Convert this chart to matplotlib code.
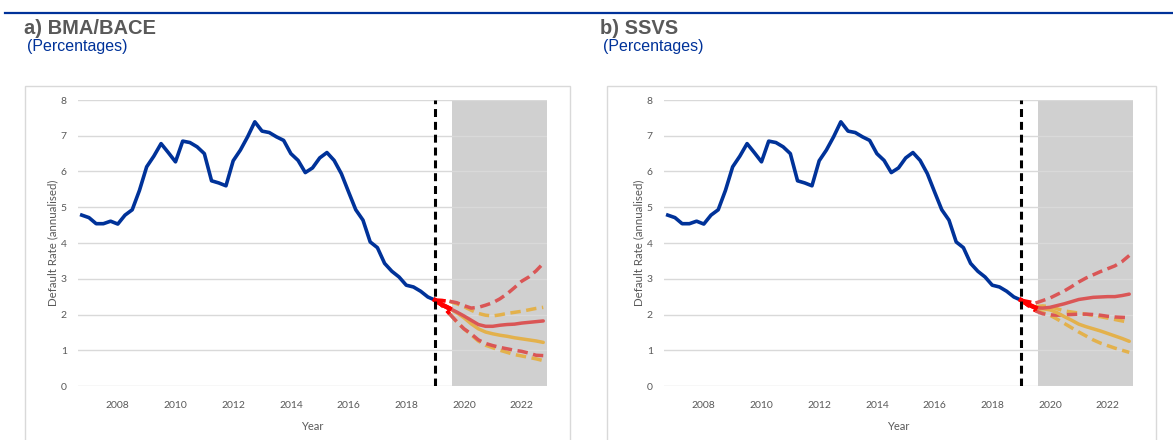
import matplotlib.pyplot as plt
import numpy as np
import pandas as pd
from matplotlib.patches import Rectangle
from matplotlib.lines import Line2D


OUTPUT_FILE = "out.png"

ECB_BLUE = "#003299"
RED = "#DA5656"
YELLOW = "#E3B14C"
BRIGHT_RED = "#FF0000"
TEXT_GREY = "#595959"

# Observed default rate, quarterly 2006Q4 - 2019Q1
HIST_QUARTERS = pd.period_range("2006Q4", "2019Q1", freq="Q")
HIST_VALUES = [
    4.78, 4.71, 4.54, 4.54, 4.61, 4.53, 4.78, 4.93, 5.47, 6.13,
    6.43, 6.78, 6.53, 6.27, 6.85, 6.81, 6.69, 6.50, 5.74, 5.68,
    5.60, 6.30, 6.60, 6.97, 7.39, 7.13, 7.09, 6.97, 6.87, 6.50,
    6.31, 5.97, 6.10, 6.38, 6.53, 6.31, 5.94, 5.43, 4.93, 4.64,
    4.03, 3.87, 3.43, 3.21, 3.05, 2.82, 2.77, 2.65, 2.49, 2.40,
]

# Forecast paths, quarterly 2019Q1 - 2022Q4
FC_QUARTERS = pd.period_range("2019Q1", "2022Q4", freq="Q")

# a) BMA/BACE
A_RED_MID = [2.40, 2.27, 2.17, 2.07, 1.96, 1.84, 1.72, 1.67,
             1.67, 1.70, 1.72, 1.73, 1.76, 1.78, 1.80, 1.82]
A_RED_HI = [2.40, 2.39, 2.37, 2.33, 2.25, 2.18, 2.20, 2.26,
            2.33, 2.44, 2.58, 2.75, 2.93, 3.05, 3.22, 3.43]
A_RED_LO = [2.40, 2.25, 2.02, 1.80, 1.60, 1.46, 1.29, 1.19,
            1.13, 1.08, 1.04, 1.00, 0.97, 0.92, 0.86, 0.85]
A_YEL_MID = [2.40, 2.27, 2.17, 2.05, 1.91, 1.74, 1.60, 1.51,
             1.46, 1.42, 1.39, 1.35, 1.32, 1.29, 1.26, 1.22]
A_YEL_HI = [2.40, 2.39, 2.37, 2.30, 2.22, 2.12, 2.03, 1.98,
            1.96, 1.99, 2.03, 2.06, 2.09, 2.13, 2.17, 2.20]
A_YEL_LO = [2.40, 2.25, 2.02, 1.80, 1.60, 1.43, 1.26, 1.14,
            1.07, 1.00, 0.94, 0.88, 0.84, 0.80, 0.76, 0.71]

# b) SSVS
B_RED_MID = [2.40, 2.28, 2.19, 2.18, 2.20, 2.25, 2.30, 2.36,
             2.42, 2.45, 2.48, 2.49, 2.50, 2.50, 2.53, 2.57]
B_RED_HI = [2.40, 2.36, 2.32, 2.39, 2.46, 2.56, 2.66, 2.78,
            2.91, 3.02, 3.11, 3.20, 3.28, 3.36, 3.48, 3.65]
B_RED_LO = [2.40, 2.25, 2.10, 2.02, 1.99, 1.98, 1.99, 2.00,
            2.01, 2.01, 2.00, 1.98, 1.95, 1.93, 1.92, 1.91]
B_YEL_MID = [2.40, 2.28, 2.19, 2.16, 2.13, 2.05, 1.94, 1.84,
             1.73, 1.66, 1.60, 1.54, 1.47, 1.40, 1.33, 1.25]
B_YEL_HI = [2.40, 2.28, 2.22, 2.24, 2.22, 2.16, 2.10, 2.07,
            2.04, 2.01, 1.97, 1.94, 1.90, 1.86, 1.82, 1.78]
B_YEL_LO = [2.40, 2.25, 2.12, 2.05, 1.98, 1.87, 1.75, 1.63,
            1.51, 1.40, 1.29, 1.20, 1.13, 1.06, 1.00, 0.94]

FORECAST_ORIGIN = 2019.0
SHADE_START = 2019.6
X_LIMITS = (2006.62, 2022.88)
X_TICKS = [2008, 2010, 2012, 2014, 2016, 2018, 2020, 2022]
Y_TICKS = [0, 1, 2, 3, 4, 5, 6, 7, 8]


def to_decimal_year(quarters: pd.PeriodIndex) -> np.ndarray:
    """Convert quarterly periods to decimal years (start of quarter)."""
    return quarters.year + (quarters.quarter - 1) / 4


def draw_panel(ax, paths) -> None:
    """Draw one default-rate panel with observed line and forecast paths."""

    hist_x = to_decimal_year(HIST_QUARTERS)
    fc_x = to_decimal_year(FC_QUARTERS)

    ax.axvspan(SHADE_START, X_LIMITS[1], color="#D0D0D0", zorder=0.2, lw=0)

    for y in Y_TICKS:
        ax.axhline(y, color="#D9D9D9", lw=1.0, zorder=0.5)

    ax.plot(hist_x, HIST_VALUES, color=ECB_BLUE, lw=2.6, zorder=4,
            solid_joinstyle="round")

    for values, color, style in paths:
        line_kw = dict(lw=2.5, zorder=3)
        if style == "--":
            dashes = (3.0, 1.6)
            ax.plot(fc_x[2:], values[2:], color=color, dashes=dashes, **line_kw)
            ax.plot(fc_x[:3], values[:3], color=BRIGHT_RED, dashes=dashes,
                    **line_kw)
        else:
            ax.plot(fc_x[2:], values[2:], color=color,
                    solid_capstyle="round", **line_kw)
            ax.plot(fc_x[:3], values[:3], color=BRIGHT_RED, lw=3.2, zorder=5)

    ax.axvline(FORECAST_ORIGIN, color="black", lw=2.2, dashes=(2.6, 1.6),
               zorder=6)

    ax.set_xlim(*X_LIMITS)
    ax.set_ylim(0, 8)
    ax.set_xticks(X_TICKS)
    ax.set_yticks(Y_TICKS)
    ax.tick_params(length=0, labelsize=7.5, labelcolor=TEXT_GREY)
    ax.tick_params(axis="x", pad=11)
    ax.tick_params(axis="y", pad=8)
    for spine in ax.spines.values():
        spine.set_visible(False)

    ax.set_xlabel("Year", fontsize=8, color=TEXT_GREY, labelpad=8)
    ax.set_ylabel("Default Rate (annualised)", fontsize=8.3,
                  color=TEXT_GREY, labelpad=2)


def main() -> None:
    plt.rcParams["font.family"] = ["Lato", "DejaVu Sans"]

    W, H = 1173, 440
    fig = plt.figure(figsize=(W / 100, H / 100), dpi=100)

    def fx(px):
        return px / W

    def fy(py):
        return 1 - py / H

    # Top rule
    fig.add_artist(Line2D([fx(5), 1.0], [fy(13), fy(13)],
                          color=ECB_BLUE, lw=1.6))

    panels = [
        ("a) BMA/BACE", 24, 25, 78,
         [(A_YEL_HI, YELLOW, "--"), (A_YEL_LO, YELLOW, "--"),
          (A_RED_HI, RED, "--"), (A_RED_LO, RED, "--"),
          (A_YEL_MID, YELLOW, "-"), (A_RED_MID, RED, "-")]),
        ("b) SSVS", 600, 607, 664,
         [(B_YEL_HI, YELLOW, "--"), (B_YEL_LO, YELLOW, "--"),
          (B_RED_HI, RED, "--"), (B_RED_LO, RED, "--"),
          (B_YEL_MID, YELLOW, "-"), (B_RED_MID, RED, "-")]),
    ]

    for title, title_x, box_x, axes_x, paths in panels:
        fig.text(fx(title_x), fy(28), title, fontsize=14.5, fontweight="bold",
                 color=TEXT_GREY, va="center", ha="left",
                 family=["Liberation Sans", "DejaVu Sans"])
        fig.text(fx(title_x + 3), fy(47), "(Percentages)", fontsize=11.5,
                 color=ECB_BLUE, va="center", ha="left",
                 family=["Liberation Sans", "DejaVu Sans"])

        box_w = 545 if box_x < 300 else 549
        fig.add_artist(Rectangle((fx(box_x), fy(450)), fx(box_w), fy(86) - fy(450),
                                 fill=False, edgecolor="#D9D9D9", lw=1.0))

        ax = fig.add_axes([fx(axes_x), fy(386), fx(469), fy(100) - fy(386)])
        draw_panel(ax, paths)

    fig.savefig(OUTPUT_FILE, dpi=100)
    plt.close(fig)


if __name__ == "__main__":
    main()
